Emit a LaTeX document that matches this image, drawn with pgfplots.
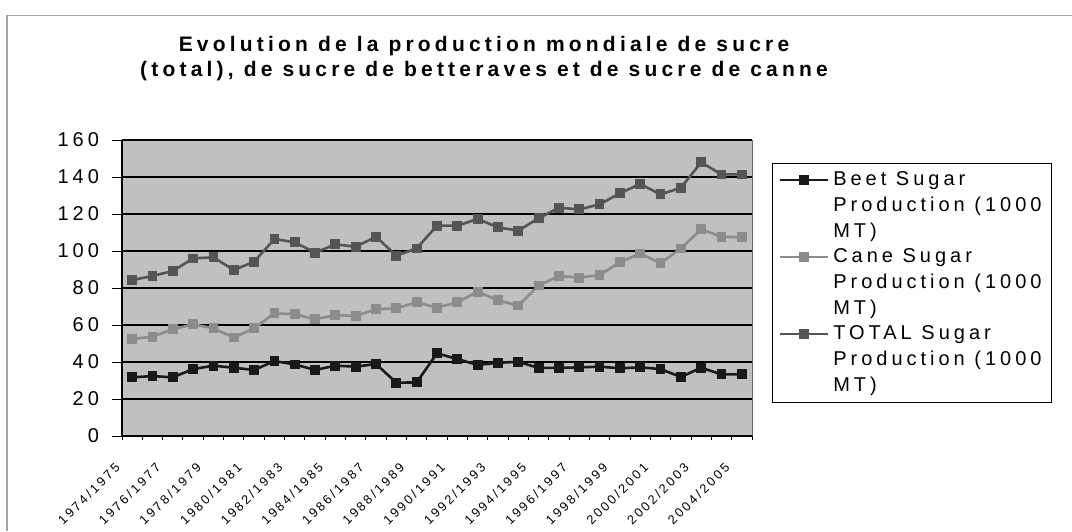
\documentclass[border=0pt]{standalone}
\usepackage{fontspec}
\setmainfont{Liberation Sans}[LetterSpace=20]
\usepackage{pgfplots}
\usepackage{pgfplotstable}
\pgfplotsset{compat=1.18}

\definecolor{plotbg}{RGB}{192,192,192}
\definecolor{beetc}{RGB}{25,25,25}
\definecolor{canec}{RGB}{140,140,140}
\definecolor{totalc}{RGB}{85,85,85}

% season index, beet, cane, total (million t)
\pgfplotstableread{
i beet cane total
0  31.7 52.4 84.3
1  32.4 53.7 86.5
2  31.7 57.7 89.2
3  36.2 60.4 96.0
4  38.0 58.2 96.6
5  36.9 53.2 89.7
6  35.7 58.2 94.2
7  40.5 66.3 106.5
8  38.7 65.8 104.7
9  35.7 63.1 99.1
10 38.0 65.4 103.6
11 37.5 64.9 102.3
12 38.9 68.6 107.7
13 28.8 69.0 97.5
14 29.0 72.3 101.4
15 44.7 69.4 113.7
16 41.6 72.3 113.7
17 38.4 78.0 117.3
18 39.6 73.3 112.8
19 40.1 70.5 111.0
20 36.8 81.3 117.7
21 36.8 86.5 123.4
22 37.1 85.6 122.5
23 37.5 87.0 125.2
24 36.6 93.9 131.2
25 37.1 98.7 136.2
26 36.2 93.3 130.6
27 31.9 101.4 134.2
28 36.9 111.7 147.9
29 33.3 107.7 141.4
30 33.3 107.4 141.4
}\sugar

\begin{document}
\begin{tikzpicture}
\path[use as bounding box] (0,0) rectangle (536pt,265.5pt);
\draw[gray!70, line width=0.6pt] (3.5pt,0) -- (3.5pt,257.7pt) -- (536pt,257.7pt);

\node[anchor=base, font=\fontsize{10.5}{12}\selectfont\bfseries] at (242pt,239.5pt)
  {Evolution de la production mondiale de sucre};
\node[anchor=base, font=\fontsize{10.5}{12}\selectfont\bfseries] at (242pt,227pt)
  {(total), de sucre de betteraves et de sucre de canne};

\begin{axis}[
    at={(61pt,47.5pt)}, anchor=south west,
    scale only axis, width=315pt, height=148pt,
    xmin=-0.5, xmax=30.5, ymin=0, ymax=160,
    ytick={0,20,...,160},
    xtick={0,2,...,30},
    xticklabels={1974/1975,1976/1977,1978/1979,1980/1981,1982/1983,1984/1985,
      1986/1987,1988/1989,1990/1991,1992/1993,1994/1995,1996/1997,1998/1999,
      2000/2001,2002/2003,2004/2005},
    minor xtick={-0.5,0.5,...,30.5},
    major x tick style={draw=none},
    tick align=outside,
    major tick length=5pt,
    minor tick length=2pt,
    tick style={black, line width=0.5pt},
    axis x line*=bottom, axis y line*=left,
    axis line style={black, line width=0.7pt},
    axis background/.style={fill=plotbg, draw=gray!80!black},
    ymajorgrids=true,
    grid style={black, line width=0.6pt},
    /pgf/number format/assume math mode=true,
    yticklabel style={font=\fontsize{10}{12}\selectfont, xshift=-3pt},
    xticklabel style={font=\fontsize{6.4}{7}\selectfont, xshift=-9pt, yshift=-3pt,
      rotate=45, anchor=north east},
    legend style={at={(1.032,0.922)}, anchor=north west, draw=black, line width=0.5pt,
      fill=white, font=\fontsize{10}{13}\selectfont, cells={align=left},
      inner xsep=3pt, inner ysep=2pt, row sep=0pt},
    legend cell align=left,
    legend image code/.code={\path[draw=none] (0pt,-13pt) (24pt,13pt);
      \draw[mark repeat=2, mark phase=2, #1]
      plot coordinates {(0pt,13pt) (12pt,13pt) (24pt,13pt)};},
    every axis plot/.append style={line width=1.3pt, mark=square*, mark size=1.8pt},
]
\addplot[beetc, mark options={fill=beetc}] table[x=i, y=beet] {\sugar};
\addlegendentry{Beet Sugar\\Production (1000\\MT)}
\addplot[canec, mark options={fill=canec}] table[x=i, y=cane] {\sugar};
\addlegendentry{Cane Sugar\\Production (1000\\MT)}
\addplot[totalc, mark options={fill=totalc}] table[x=i, y=total] {\sugar};
\addlegendentry{TOTAL Sugar\\Production (1000\\MT)}
\end{axis}
\end{tikzpicture}
\end{document}
